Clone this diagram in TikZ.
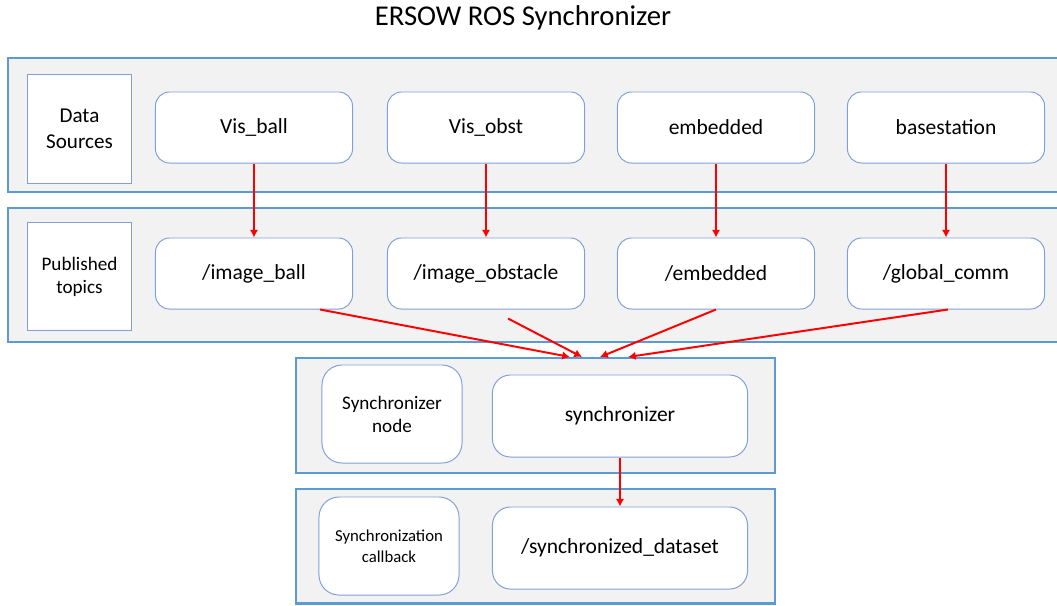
\documentclass[tikz,border=0pt]{standalone}
\usepackage{fontspec}
\setmainfont{Carlito}
\usetikzlibrary{calc,arrows.meta}
\definecolor{panelblue}{RGB}{91,155,213}
\definecolor{boxblue}{RGB}{130,160,214}
\definecolor{panelgray}{RGB}{242,242,242}

\begin{document}
\begin{tikzpicture}[x=0.025cm,y=-0.025cm,
  panel/.style={draw=panelblue,line width=2.1pt,fill=panelgray},
  rowtitle/.style={draw=boxblue,line width=0.7pt,fill=white,align=center,inner sep=0pt},
  topic/.style={draw=boxblue,line width=0.7pt,fill=white,rounded corners=0.35cm,
    minimum width=4.925cm,minimum height=1.775cm,font=\fontsize{15.3}{18}\selectfont},
  syncbox/.style={topic,minimum width=6.375cm,minimum height=2.05cm,rounded corners=0.45cm},
  sidebox/.style={draw=boxblue,line width=0.7pt,fill=white,rounded corners=0.5cm,align=center,
    minimum width=3.5cm,minimum height=2.45cm,inner sep=0pt},
  arr/.style={draw=red,line width=1.4pt,-{Latex[length=5.5pt,width=6pt]}}]
        \useasboundingbox (0,0) rectangle (1057,605);
        \node[font=\fontsize{20.4}{24}\selectfont] (title) at (523,18) {ERSOW ROS Synchronizer};
		%#####################################################
        \draw[panel] (8,58) rectangle (1070,192);
        \draw[panel] (8,208) rectangle (1070,342);
        \draw[panel] (296,358) rectangle (775,473);
        \draw[panel] (296,489) rectangle (775,603.5);
		%#####################################################
        \node[rowtitle,minimum width=2.575cm,minimum height=2.7cm,
          font=\fontsize{15}{18.4}\selectfont] (sources) at (79.5,129) {Data\\Sources};
        \node[rowtitle,minimum width=2.575cm,minimum height=2.675cm,
          font=\fontsize{13.6}{16.3}\selectfont] (published) at (79.5,276.5) {Published\\topics};
		\foreach \i/\cx/\src/\tpc in {1/254/Vis\_ball/image\_ball,2/486/Vis\_obst/image\_obstacle,
		  3/716/embedded/embedded,4/946/basestation/global\_comm}{
		\node[topic] (src\i) at (\cx,127.5) {\src};
		\node[topic] (top\i) at (\cx,273.5) {/\tpc};
		\draw[arr] (src\i) -- (top\i);
		}
		%#####################################################
        \node[sidebox,font=\fontsize{13.6}{16.3}\selectfont] (syncnode) at (392,414) {Synchronizer\\node};
        \node[syncbox] (sync) at (620,416) {synchronizer};
        \node[sidebox,font=\fontsize{11.9}{14.6}\selectfont] (callback) at (389,546) {Synchronization\\callback};
        \node[syncbox] (dataset) at (620,548) {/synchronized\_dataset};
        \draw[arr] (sync) -- (dataset);
		%#####################################################
        \coordinate (in1) at (570,357);
        \coordinate (in2) at (582,357);
        \coordinate (in3) at (600,357);
        \coordinate (in4) at (628,357);
        \draw[arr] ($(top1.south)+(66,0)$) -- (in1);
        \draw[arr] ($(top2.south)+(22,9)$) -- (in2);
        \draw[arr] (top3.south) -- (in3);
        \draw[arr] ($(top4.south)+(2,0)$) -- (in4);
\end{tikzpicture}
\end{document}
